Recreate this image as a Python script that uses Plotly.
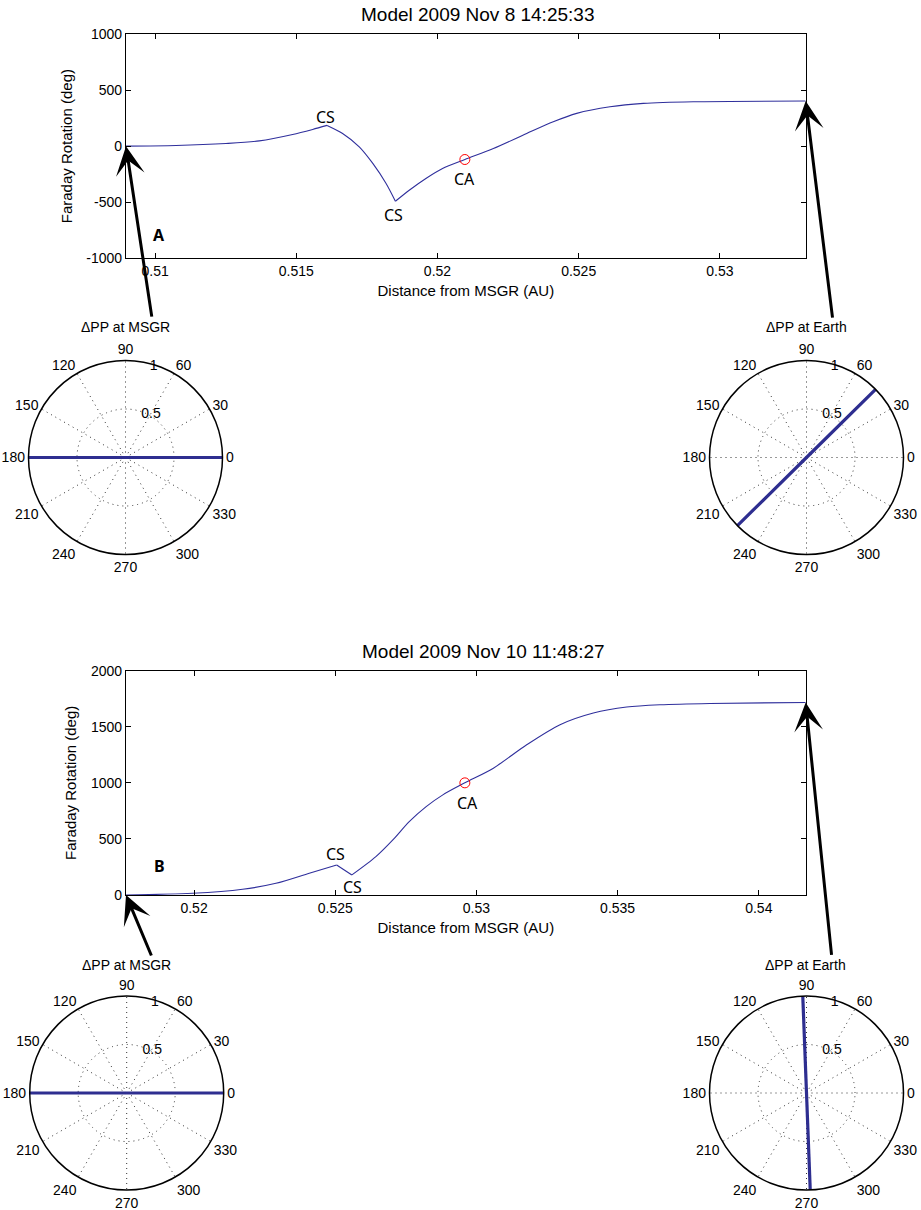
import plotly.graph_objects as go

# ---------------- data ----------------
# Panel A : Model 2009 Nov 8 14:25:33
xa = [0.50897, 0.51074, 0.51251, 0.51369, 0.51487, 0.51558, 0.51609, 0.51664,
      0.51723, 0.51771, 0.51818, 0.51851, 0.51900, 0.51959, 0.52018, 0.52097,
      0.52198, 0.52316, 0.52410, 0.52493, 0.52611, 0.52729, 0.52906, 0.53304]
ya = [0, 6, 24, 47, 104, 149, 185, 113,
      -6, -154, -333, -491, -393, -288, -199, -119,
      -21, 113, 217, 292, 351, 381, 396, 402]
cusps_a = [6, 11]          # indices of the current-sheet (CS) kinks
ca_a = (0.52097, -119)

# Panel B : Model 2009 Nov 10 11:48:27
xb = [0.51759, 0.51995, 0.52172, 0.52290, 0.52408, 0.52505, 0.52559, 0.52644,
      0.52704, 0.52762, 0.52822, 0.52881, 0.52959, 0.53060, 0.53178, 0.53296,
      0.53414, 0.53532, 0.53650, 0.53827, 0.54166]
yb = [0, 15, 51, 104, 194, 268, 179, 342,
      491, 654, 788, 893, 1000, 1131, 1339, 1518,
      1622, 1676, 1696, 1708, 1717]
cusps_b = [5, 6]
ca_b = (0.52959, 1000)

# tick labels
xticks_a = [0.51, 0.515, 0.52, 0.525, 0.53]
xticktext_a = ["0.51", "0.515", "0.52", "0.525", "0.53"]
yticks_a = [-1000, -500, 0, 500, 1000]
yticktext_a = ["-1000", "-500", "0", "500", "1000"]
xticks_b = [0.52, 0.525, 0.53, 0.535, 0.54]
xticktext_b = ["0.52", "0.525", "0.53", "0.535", "0.54"]
yticks_b = [0, 500, 1000, 1500, 2000]
yticktext_b = ["0", "500", "1000", "1500", "2000"]

# polarization-plane change angles (deg)
dpp_msgr_a = 0.0
dpp_earth_a = 44.6
dpp_msgr_b = 0.0
dpp_earth_b = 92.2
ang_ticks = [0, 30, 60, 90, 120, 150, 180, 210, 240, 270, 300, 330]
ang_ticktext = [str(a) for a in ang_ticks]
rad_ticks = [0.5, 1]
rad_ticktext = ["0.5", "1"]

# ---------------- figure ----------------
W, H = 921, 1210
LINE = "#2f2f9c"
TICKFONT = dict(family="Liberation Sans, Arial, sans-serif", size=14, color="black")
AXTITLEFONT = dict(family="Liberation Sans, Arial, sans-serif", size=15, color="black")
LABFONT = dict(family="Noto Sans, sans-serif", size=16, color="black")
GRIDDASH = "1px,4px"
GRIDCOLOR = "#333333"

fig = go.Figure()


def add_curve(xs, ys, cusps, xref, yref):
    bounds = [0] + cusps + [len(xs) - 1]
    for i0, i1 in zip(bounds[:-1], bounds[1:]):
        fig.add_trace(go.Scatter(x=xs[i0:i1 + 1], y=ys[i0:i1 + 1], mode="lines",
                                 line=dict(color=LINE, width=1.1, shape="spline", smoothing=0.8),
                                 xaxis=xref, yaxis=yref, hoverinfo="skip"))


add_curve(xa, ya, cusps_a, "x", "y")
fig.add_trace(go.Scatter(x=[ca_a[0]], y=[ca_a[1]], mode="markers",
                         marker=dict(symbol="circle-open", size=10, color="red", line=dict(width=1)),
                         xaxis="x", yaxis="y"))
add_curve(xb, yb, cusps_b, "x2", "y2")
fig.add_trace(go.Scatter(x=[ca_b[0]], y=[ca_b[1]], mode="markers",
                         marker=dict(symbol="circle-open", size=10, color="red", line=dict(width=1)),
                         xaxis="x2", yaxis="y2"))

for name, ang in [("polar", dpp_msgr_a), ("polar2", dpp_earth_a),
                  ("polar3", dpp_msgr_b), ("polar4", dpp_earth_b)]:
    fig.add_trace(go.Scatterpolar(r=[1, 0, 1], theta=[ang, ang, ang + 180], mode="lines",
                                  line=dict(color="#2e2e90", width=3.2), subplot=name))


def xaxis_cfg(dom, anchor, rng, tv, tt):
    return dict(domain=dom, anchor=anchor, range=rng, tickmode="array", tickvals=tv, ticktext=tt,
                showline=True, linecolor="black", linewidth=1.2, mirror="ticks", ticks="inside",
                ticklen=5, tickcolor="black", showgrid=False, zeroline=False, tickfont=TICKFONT,
                automargin=False,
                title=dict(text="Distance from MSGR (AU)", font=AXTITLEFONT, standoff=7))


def yaxis_cfg(dom, anchor, rng, tv, tt):
    return dict(domain=dom, anchor=anchor, range=rng, tickmode="array", tickvals=tv, ticktext=tt,
                showline=True, linecolor="black", linewidth=1.2, mirror="ticks", ticks="inside",
                ticklen=5, tickcolor="black", showgrid=False, zeroline=False, tickfont=TICKFONT,
                automargin=False,
                title=dict(text="Faraday Rotation (deg)", font=AXTITLEFONT, standoff=10))


def px2fx(px):
    return px / W


def py2fy(py):
    return 1 - py / H


xdom = [px2fx(126), px2fx(805.7)]
fig.update_layout(
    xaxis=xaxis_cfg(xdom, "y", [xa[0], xa[-1]], xticks_a, xticktext_a),
    yaxis=yaxis_cfg([py2fy(258.3), py2fy(34)], "x", [-1000, 1000], yticks_a, yticktext_a),
    xaxis2=xaxis_cfg(xdom, "y2", [xb[0], xb[-1]], xticks_b, xticktext_b),
    yaxis2=yaxis_cfg([py2fy(895), py2fy(670.7)], "x2", [0, 2000], yticks_b, yticktext_b),
)


def polar_cfg(cx, cy, r=97.0):
    return dict(
        domain=dict(x=[px2fx(cx - r), px2fx(cx + r)], y=[py2fy(cy + r), py2fy(cy - r)]),
        bgcolor="white",
        angularaxis=dict(rotation=0, direction="counterclockwise", tickmode="array",
                         tickvals=ang_ticks, ticktext=ang_ticktext, showline=True,
                         linecolor="black", linewidth=1.5, showgrid=True, gridcolor=GRIDCOLOR,
                         griddash=GRIDDASH, gridwidth=1, ticks="", ticklen=0, tickfont=TICKFONT),
        radialaxis=dict(range=[0, 1], tickmode="array", tickvals=rad_ticks, ticktext=rad_ticktext,
                        showline=False, showgrid=True, gridcolor=GRIDCOLOR, griddash=GRIDDASH,
                        gridwidth=1, ticks="", angle=80, tickangle=80, side="clockwise",
                        tickfont=TICKFONT),
    )


fig.update_layout(
    polar=polar_cfg(125.5, 457.5),
    polar2=polar_cfg(806.5, 457.5),
    polar3=polar_cfg(126.7, 1093.0),
    polar4=polar_cfg(806.5, 1093.0),
)

TITLEFONT = dict(family="Liberation Sans, Arial, sans-serif", size=19, color="black")
C = dict(xanchor="center", yanchor="middle", showarrow=False)
annotations = [
    dict(text="Model 2009 Nov 8 14:25:33", x=px2fx(477), y=py2fy(15), xref="paper", yref="paper",
         font=TITLEFONT, **C),
    dict(text="Model 2009 Nov 10 11:48:27", x=px2fx(483), y=py2fy(651.5), xref="paper", yref="paper",
         font=TITLEFONT, **C),
    # panel A labels
    dict(text="CS", x=0.51604, y=262, xref="x", yref="y", font=LABFONT, **C),
    dict(text="CS", x=0.51843, y=-616, xref="x", yref="y", font=LABFONT, **C),
    dict(text="CA", x=0.52095, y=-295, xref="x", yref="y", font=LABFONT, **C),
    dict(text="<b>A</b>", x=0.51015, y=-795, xref="x", yref="y", font=LABFONT, **C),
    # panel B labels
    dict(text="CS", x=0.525003, y=366, xref="x2", yref="y2", font=LABFONT, **C),
    dict(text="CS", x=0.525605, y=74, xref="x2", yref="y2", font=LABFONT, **C),
    dict(text="CA", x=0.529678, y=819, xref="x2", yref="y2", font=LABFONT, **C),
    dict(text="<b>B</b>", x=0.518761, y=259, xref="x2", yref="y2", font=LABFONT, **C),
]

PFONT = dict(family="Liberation Sans, Arial, sans-serif", size=14, color="black")
for txt, cx, cy in [("ΔPP at MSGR", 125.5, 326.7), ("ΔPP at Earth", 806.5, 326.7),
                    ("ΔPP at MSGR", 126.7, 965), ("ΔPP at Earth", 805.5, 965)]:
    annotations.append(dict(text=txt, x=px2fx(cx), y=py2fy(cy), xref="paper", yref="paper",
                            font=PFONT, **C))

# arrows pointing from the polar diagrams to the path end points
ARW = dict(showarrow=True, arrowhead=3, arrowsize=1.6, arrowwidth=3, arrowcolor="black",
           standoff=0, text="", axref="pixel", ayref="pixel")
annotations += [
    dict(x=xa[0], y=ya[0], xref="x", yref="y", ax=26, ay=172, **ARW),
    dict(x=xa[-1], y=ya[-1], xref="x", yref="y", ax=27, ay=218, **ARW),
    dict(x=xb[0], y=yb[0], xref="x2", yref="y2", ax=26, ay=62, **ARW),
    dict(x=xb[-1], y=yb[-1], xref="x2", yref="y2", ax=26, ay=254, **ARW),
]

fig.update_layout(
    template="none",
    width=W, height=H, margin=dict(l=0, r=0, t=0, b=0, autoexpand=False),
    paper_bgcolor="white", plot_bgcolor="white", showlegend=False,
    font=dict(family="Liberation Sans, Arial, sans-serif", color="black"),
    annotations=annotations,
)

fig.write_html("out.html")
